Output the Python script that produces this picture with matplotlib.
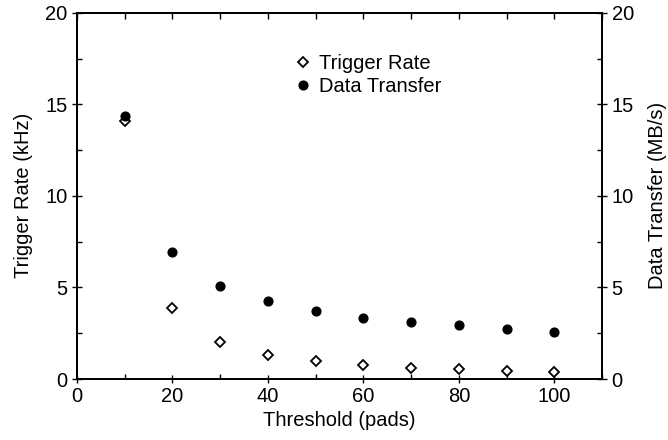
import matplotlib
matplotlib.use("Agg")
import matplotlib.pyplot as plt
from matplotlib.ticker import MultipleLocator
from matplotlib.lines import Line2D

threshold = [10, 20, 30, 40, 50, 60, 70, 80, 90, 100]
trigger_rate = [14.1, 3.9, 2.02, 1.33, 0.98, 0.77, 0.62, 0.53, 0.45, 0.40]
data_transfer = [14.37, 6.96, 5.1, 4.26, 3.72, 3.35, 3.11, 2.93, 2.75, 2.59]

FS = 14.5
plt.rcParams['font.family'] = ['Liberation Sans', 'DejaVu Sans']
plt.rcParams['font.size'] = FS

fig = plt.figure(figsize=(6.68, 4.4), dpi=100)
ax = fig.add_axes([0.1153, 0.1386, 0.7859, 0.8325])
ax2 = ax.twinx()

ax.plot(threshold, trigger_rate, linestyle='none', marker='D', markersize=5.0,
        markerfacecolor='white', markeredgecolor='black', markeredgewidth=1.3)
ax2.plot(threshold, data_transfer, linestyle='none', marker='o', markersize=6.3,
         markerfacecolor='black', markeredgecolor='black')

ax.set_xlim(0, 110)
ax.set_ylim(0, 20)
ax2.set_ylim(0, 20)

ax.xaxis.set_major_locator(MultipleLocator(20))
ax.xaxis.set_minor_locator(MultipleLocator(10))
ax.yaxis.set_major_locator(MultipleLocator(5))
ax.yaxis.set_minor_locator(MultipleLocator(2.5))
ax2.yaxis.set_major_locator(MultipleLocator(5))
ax2.yaxis.set_minor_locator(MultipleLocator(2.5))

ax.tick_params(axis='x', which='major', direction='inout', length=6, width=1.0, top=False, labelsize=FS, pad=3)
ax.tick_params(axis='x', which='minor', direction='in', length=3.5, width=1.0, top=False)
ax.tick_params(axis='y', which='major', direction='inout', length=7, width=1.0, labelsize=FS)
ax.tick_params(axis='y', which='minor', direction='in', length=3.5, width=1.0)
ax2.tick_params(axis='y', which='major', direction='inout', length=7, width=1.0, labelsize=FS)
ax2.tick_params(axis='y', which='minor', direction='in', length=3.5, width=1.0)

# top ticks inward every 10
ax3 = ax.secondary_xaxis('top')
ax3.xaxis.set_major_locator(MultipleLocator(10))
ax3.tick_params(axis='x', which='major', direction='in', length=4, width=1.0, labeltop=False)
ax3.spines['top'].set_linewidth(1.3)

for a in (ax, ax2):
    for s in a.spines.values():
        s.set_linewidth(1.3)

ax.set_xlabel('Threshold (pads)', fontsize=FS, labelpad=3)
ax.set_ylabel('Trigger Rate (kHz)', fontsize=FS, labelpad=9)
ax2.set_ylabel('Data Transfer (MB/s)', fontsize=FS, labelpad=10)

handles = [
    Line2D([], [], linestyle='none', marker='D', markersize=5.0, markerfacecolor='white',
           markeredgecolor='black', markeredgewidth=1.3, label='Trigger Rate'),
    Line2D([], [], linestyle='none', marker='o', markersize=6.3, markerfacecolor='black',
           markeredgecolor='black', label='Data Transfer'),
]
ax2.legend(handles=handles, loc='upper left', bbox_to_anchor=(0.403, 0.908), frameon=False,
           handlelength=0.6, handletextpad=0.5, labelspacing=0.2, borderaxespad=0,
           fontsize=FS)

fig.savefig('out.png', dpi=100)
